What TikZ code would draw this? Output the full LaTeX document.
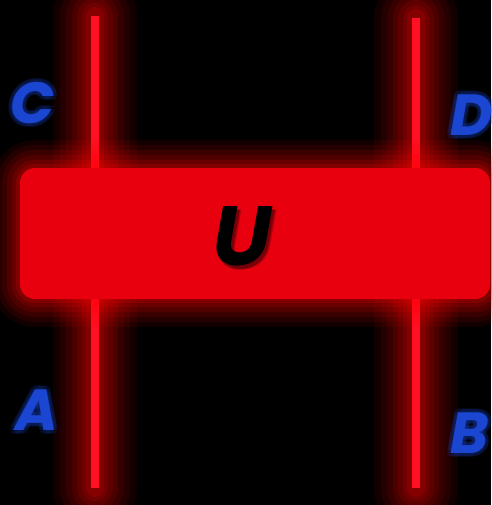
\documentclass[tikz,border=0pt]{standalone}
\usepackage{fontspec}
\setmainfont{Poppins}
\definecolor{boxred}{HTML}{E8000F}
\definecolor{linered}{HTML}{FF1022}
\definecolor{glowred}{HTML}{FF0000}
\definecolor{lblue}{HTML}{1A46D2}
\tikzset{
  wire/.style={linered, line width=8pt},
  wireglow/.style={glowred, line cap=round},
  boxnode/.style={fill=boxred, rounded corners=15pt, minimum width=470pt, minimum height=131pt, inner sep=0pt},
  lbl/.style={text=lblue, font=\fontsize{58}{58}\selectfont\bfseries\itshape, inner sep=0pt},
  lblglow/.style={text=lblue, opacity=0.14, font=\fontsize{58}{58}\selectfont\bfseries\itshape, inner sep=0pt},
  ulbl/.style={text=black, font=\fontsize{84}{84}\selectfont\bfseries\itshape, inner sep=0pt}
}
\begin{document}
\begin{tikzpicture}[x=1pt,y=-1pt]
\fill[black] (0,0) rectangle (491,505);
\useasboundingbox (0,0) rectangle (491,505);
\coordinate (lt) at (95,16);
\coordinate (lb) at (95,488);
\coordinate (rt) at (416,18);
\coordinate (rb) at (416,488);
% wire glows
\foreach \w/\o in {84/0.07,70/0.08,58/0.09,46/0.1,36/0.11,26/0.12,18/0.14}{
  \draw[wireglow, line width=\w pt, opacity=\o] (lt) -- (lb);
  \draw[wireglow, line width=\w pt, opacity=\o] (rt) -- (rb);
}
\draw[wire] (lt) -- (lb);
\draw[wire] (rt) -- (rb);
% box glow
\foreach \w/\o in {56/0.07,46/0.08,36/0.1,26/0.12,16/0.14,8/0.16}{
  \draw[glowred, line width=\w pt, opacity=\o, rounded corners=15pt, line join=round] (20,168) rectangle (490,299);
}
\node[boxnode] (box) at (255,233.5) {};
% U with shadow
\foreach \dx/\dy in {3/3,4/4,2/4}{
  \node[ulbl, opacity=0.2] at (242+\dx,236+\dy) {U};
}
\node[ulbl] (u) at (242,236) {U};
% labels with glow
\foreach \n/\t/\x/\y in {c/C/33/103,d/D/472/115,a/A/37/410,b/B/470/433}{
  \foreach \dx/\dy in {4/0,-4/0,0/4,0/-4,3/3,-3/3,3/-3,-3/-3}{
    \node[lblglow] at (\x+\dx,\y+\dy) {\t};
  }
  \node[lbl] (\n) at (\x,\y) {\t};
}
\end{tikzpicture}
\end{document}
